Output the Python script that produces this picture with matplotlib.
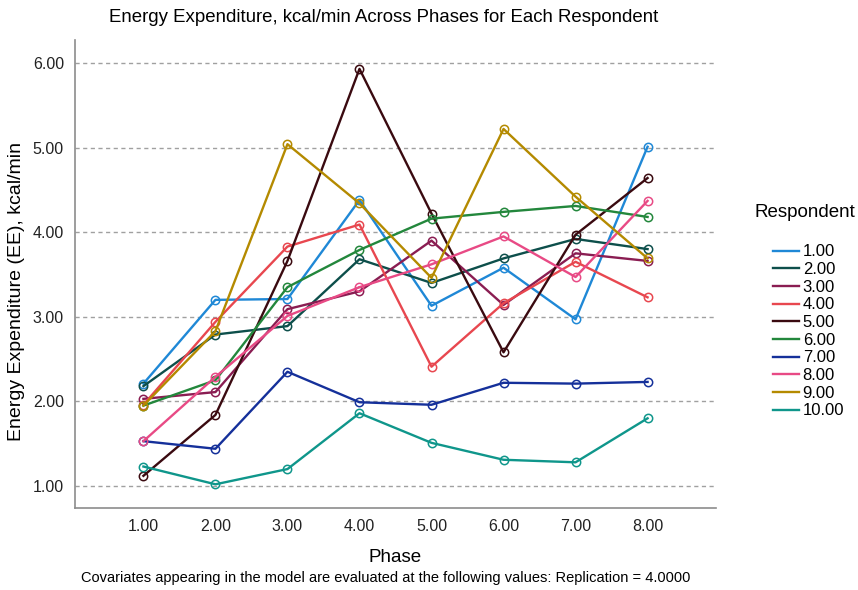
import matplotlib
matplotlib.use("Agg")
import matplotlib.pyplot as plt

plt.rcParams['font.family'] = ['Liberation Sans', 'DejaVu Sans']

phases = [1, 2, 3, 4, 5, 6, 7, 8]
phase_labels = ['1.00', '2.00', '3.00', '4.00', '5.00', '6.00', '7.00', '8.00']

respondents = ['1.00', '2.00', '3.00', '4.00', '5.00', '6.00', '7.00', '8.00', '9.00', '10.00']

r1 = [2.21, 3.20, 3.21, 4.38, 3.13, 3.58, 2.97, 5.01]
r2 = [2.18, 2.79, 2.89, 3.68, 3.40, 3.69, 3.92, 3.80]
r3 = [2.03, 2.11, 3.09, 3.30, 3.90, 3.14, 3.75, 3.66]
r4 = [1.96, 2.94, 3.83, 4.09, 2.41, 3.16, 3.65, 3.23]
r5 = [1.12, 1.84, 3.66, 5.93, 4.22, 2.58, 3.97, 4.64]
r6 = [1.95, 2.25, 3.35, 3.79, 4.16, 4.24, 4.31, 4.18]
r7 = [1.53, 1.44, 2.35, 1.99, 1.96, 2.22, 2.21, 2.23]
r8 = [1.53, 2.29, 3.01, 3.35, 3.62, 3.95, 3.47, 4.37]
r9 = [1.95, 2.83, 5.04, 4.34, 3.46, 5.22, 4.42, 3.69]
r10 = [1.23, 1.02, 1.20, 1.86, 1.51, 1.31, 1.28, 1.80]
series = [r1, r2, r3, r4, r5, r6, r7, r8, r9, r10]

colors = ['#1f88d6', '#0d4f4b', '#8a1d52', '#e8474f', '#3a0a10',
          '#23873c', '#15309a', '#e84a85', '#b48a00', '#0f968b']

fig = plt.figure(figsize=(8.58, 5.90), dpi=100)
ax = fig.add_axes([0.0874, 0.139, 0.7471, 0.793])

for vals, c, lab in zip(series, colors, respondents):
    ax.plot(phases, vals, color=c, lw=1.7, marker='o', markersize=6,
            markerfacecolor='none', markeredgecolor=c, markeredgewidth=1.1, label=lab)

ax.set_xlim(0.05, 8.95)
ax.set_ylim(0.74, 6.27)
ax.set_xticks(phases)
ax.set_xticklabels(phase_labels)
ax.set_yticks([1, 2, 3, 4, 5, 6])
ax.set_yticklabels(['1.00', '2.00', '3.00', '4.00', '5.00', '6.00'])
ax.tick_params(length=0, labelsize=11.5, colors='#222222', pad=8)
ax.yaxis.grid(True, linestyle=(0, (3, 2.5)), color='#a0a0a0', lw=1)
ax.set_axisbelow(True)
for s in ['top', 'right']:
    ax.spines[s].set_visible(False)
for s in ['left', 'bottom']:
    ax.spines[s].set_color('#8c8c8c')
    ax.spines[s].set_linewidth(1.2)

ax.set_xlabel('Phase', fontsize=13.5, labelpad=11)
ax.set_ylabel('Energy Expenditure (EE), kcal/min', fontsize=14)
ax.yaxis.set_label_coords(-0.078, 0.4637)

fig.text(0.4476, 0.9695, 'Energy Expenditure, kcal/min Across Phases for Each Respondent',
         ha='center', va='center', fontsize=13.4)
fig.text(0.45, 0.02, 'Covariates appearing in the model are evaluated at the following values: Replication = 4.0000',
         ha='center', va='center', fontsize=10.5)

fig.text(0.938, 0.639, 'Respondent', ha='center', va='center', fontsize=13.5)
leg = fig.legend(loc='upper left', bbox_to_anchor=(0.8928, 0.597), borderaxespad=0,
                 frameon=False, fontsize=12, handlelength=1.6, handletextpad=0.2,
                 labelspacing=0.16)
for h in leg.legend_handles:
    h.set_marker('')

fig.savefig('out.png', dpi=100)
